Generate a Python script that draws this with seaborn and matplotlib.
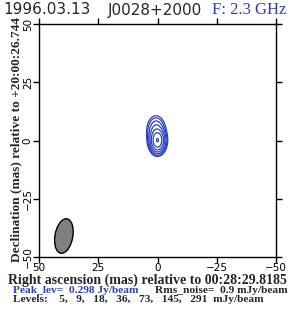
import numpy as np
import matplotlib
matplotlib.use("Agg")
import matplotlib.pyplot as plt
import seaborn as sns
from matplotlib.patches import Ellipse

# ---- chart content ----
epoch = "1996.03.13"
source = "J0028+2000"
freq_label = "F: 2.3 GHz"
x_ticks = [50, 25, 0, -25, -50]
y_ticks = [-50, -25, 0, 25, 50]
levels_mjy = [5, 9, 18, 36, 73, 145, 291]
peak_jy = 0.298
rms_mjy = 0.9
ra_ref = "00:28:29.8185"
dec_ref = "+20:00:26.744"

# Gaussian model components (mas, mJy/beam)
comp_x0 = [0.0, 0.6]
comp_y0 = [0.0, 4.5]
comp_peak = [290.0, 40.0]
comp_sx = [1.5, 1.9]
comp_sy = [2.4, 3.0]

# restoring beam (mas, deg)
beam_x, beam_y = 39.5, -41.0
beam_minor, beam_major, beam_pa = 7.5, 15.0, 10.0

# ---- style ----
sns.set_theme(style="ticks")
plt.rcParams["font.family"] = ["DejaVu Sans"]
blue = "#2b3fc0"
serif = ["Liberation Serif", "DejaVu Serif"]

fig = plt.figure(figsize=(2.90, 3.09), dpi=100)
ax = fig.add_axes([39 / 290, 1 - 257 / 309, 237 / 290, 233 / 309])

# model image
gx = np.linspace(-50, 50, 801)
gy = np.linspace(-50, 50, 801)
X, Y = np.meshgrid(gx, gy)
Z = np.zeros_like(X)
for x0, y0, pk, sx, sy in zip(comp_x0, comp_y0, comp_peak, comp_sx, comp_sy):
    Z += pk * np.exp(-0.5 * (((X - x0) / sx) ** 2 + ((Y - y0) / sy) ** 2))

ax.contour(X, Y, Z, levels=levels_mjy, colors=blue, linewidths=0.9)

beam = Ellipse((beam_x, beam_y), width=beam_minor, height=beam_major,
               angle=beam_pa, facecolor="#808080", edgecolor="black", lw=1.0)
ax.add_patch(beam)

ax.set_xlim(50, -50)
ax.set_ylim(-50, 50)
ax.set_xticks(x_ticks)
ax.set_yticks(y_ticks)
ax.set_xticklabels([str(v).replace("-", "\u2212") for v in x_ticks], fontsize=7.5)
ax.set_yticklabels([str(v).replace("-", "\u2212") for v in y_ticks], fontsize=7.5,
                   rotation=90, va="center")
ax.tick_params(direction="out", length=4, width=1.0, top=True, right=True,
               labeltop=False, labelright=False, pad=0.5, colors="black")
for s in ax.spines.values():
    s.set_linewidth(1.0)
    s.set_color("black")

# titles
fig.text(3 / 290, 1 - 10 / 309, epoch, fontsize=11, ha="left", va="center")
fig.text(108 / 290, 1 - 10 / 309, source, fontsize=11, ha="left", va="center")
fig.text(212 / 290, 1 - 10 / 309, freq_label, fontsize=12, ha="left",
         va="center", color=blue, family=serif)

# axis labels
fig.text(147 / 290, 1 - 280 / 309, f"Right ascension (mas) relative to {ra_ref}",
         fontsize=10, fontweight="bold", family=serif, ha="center", va="center")
fig.text(16 / 290, 1 - 140 / 309, f"Declination (mas) relative to {dec_ref}",
         fontsize=9.6, fontweight="bold", family=serif, ha="center", va="center",
         rotation=90)

# footer
fig.text(13 / 290, 1 - 290.5 / 309, f"Peak_lev=  {peak_jy:.3f} Jy/beam",
         fontsize=8.2, fontweight="bold", family=serif, color=blue,
         ha="left", va="center")
fig.text(155 / 290, 1 - 290.5 / 309, f"Rms_noise=  {rms_mjy} mJy/beam",
         fontsize=8.2, fontweight="bold", family=serif, ha="left", va="center")
fig.text(13 / 290, 1 - 300 / 309,
         "Levels:    " + ",   ".join(f"{v}" for v in levels_mjy) + "  mJy/beam",
         fontsize=8.2, fontweight="bold", family=serif, ha="left", va="center")

fig.savefig("out.png", dpi=100)
